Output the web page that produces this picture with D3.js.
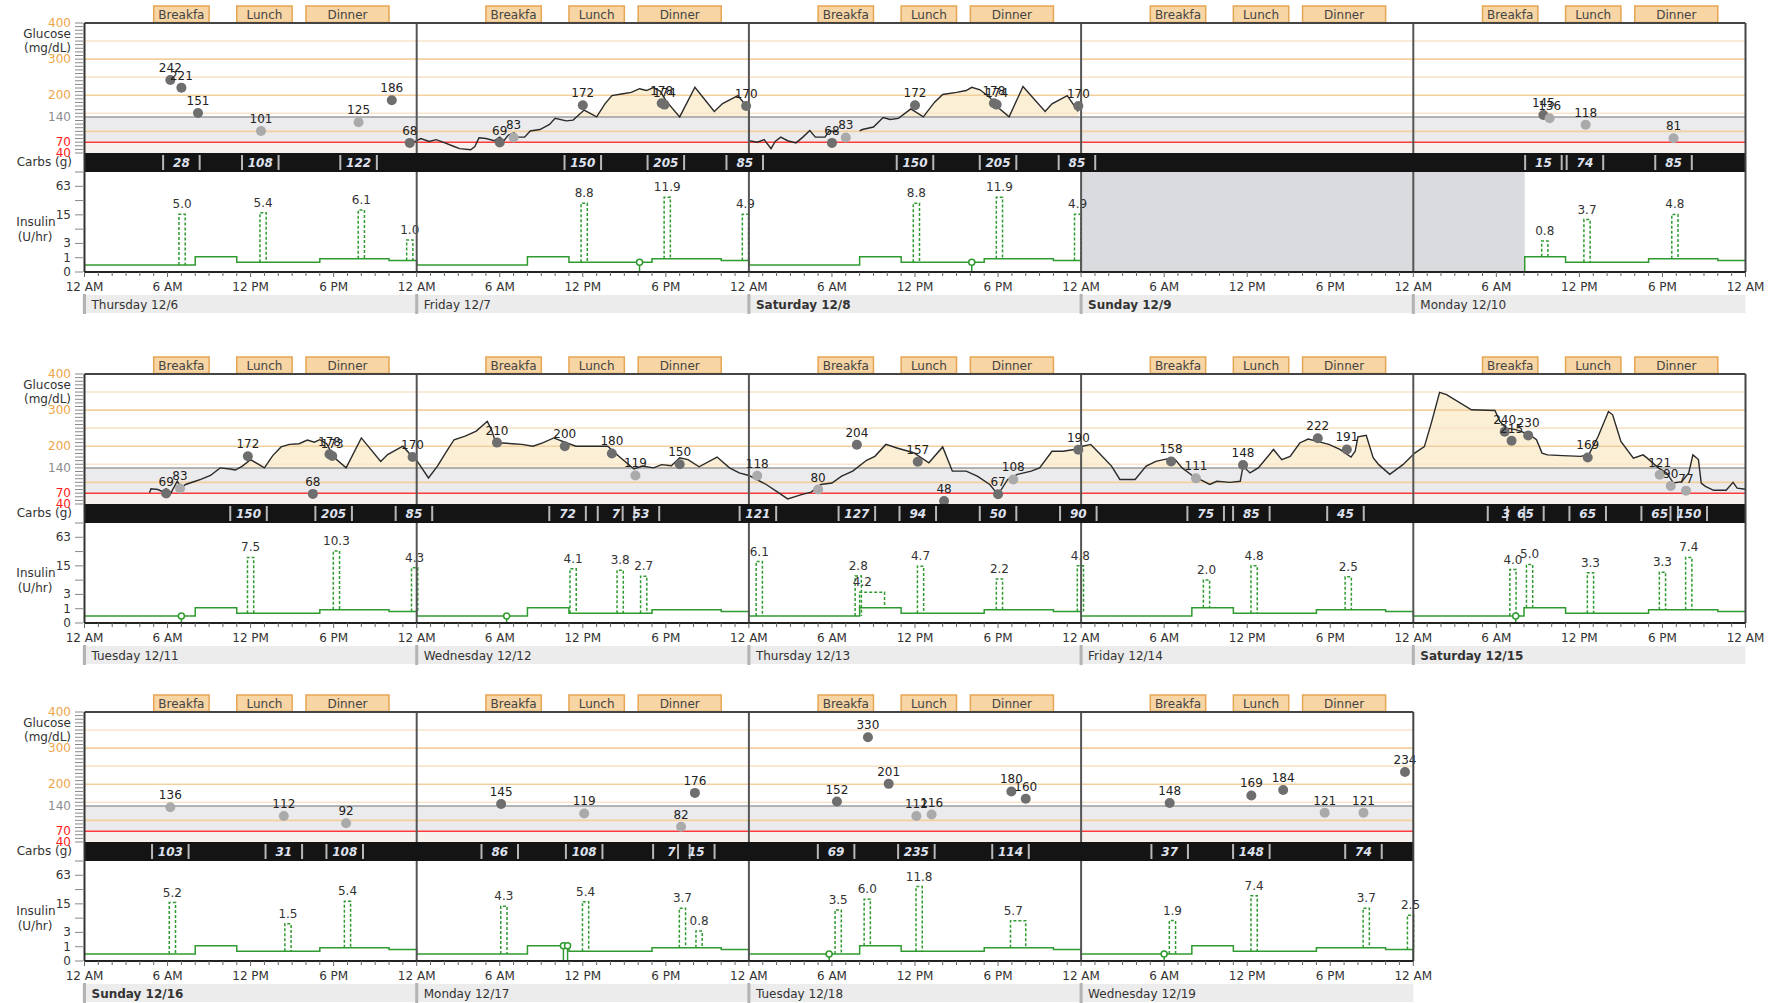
<!DOCTYPE html>
<html>
<head>
<meta charset="utf-8">
<script src="https://cdn.jsdelivr.net/npm/d3@7"></script>
<style>
  body { margin: 0; background: #fff; }
  svg { display: block; }
</style>
</head>
<body>
<script>
// Two week pump logbook: glucose (CGM + meter), carbs, basal/bolus insulin.
// All times are [day index, hour of day]. Day 0 = Thursday 12/6.

const dayLabels = ["Thursday 12/6", "Friday 12/7", "Saturday 12/8", "Sunday 12/9", "Monday 12/10",
  "Tuesday 12/11", "Wednesday 12/12", "Thursday 12/13", "Friday 12/14", "Saturday 12/15",
  "Sunday 12/16", "Monday 12/17", "Tuesday 12/18", "Wednesday 12/19"];
const weekendDays = [2, 3, 9, 10];
const rowDays = [[0, 5], [5, 10], [10, 14]];

const mealNames = ["Breakfa", "Lunch", "Dinner"];
const mealStart = [5, 11, 16];
const mealEnd = [9, 15, 22];

const glucoseTicks = [400, 300, 200, 140, 70, 40];
const glucoseGrid = [100, 150, 200, 250, 300, 350];
const insulinTicks = [0, 1, 3, 15, 63];
const insulinMinorTicks = [7, 31, 127];
const timeLabels = ["12 AM", "6 AM", "12 PM", "6 PM"];

// basal schedule (U/hr) and when the pump was running
const basalHours = [0, 8, 11, 17, 22];
const basalRates = [0.4, 1.1, 0.6, 0.9, 0.75];
const pumpActive = [[0, 0, 3, 0], [4, 8.05, 14, 0]];

// meter readings [day, hour, mg/dL]
const meterReadings = [
  [0, 6.2, 242], [0, 7.0, 221], [0, 8.2, 151], [0, 12.75, 101], [0, 19.8, 125], [0, 22.2, 186], [0, 23.5, 68],
  [1, 6.0, 69], [1, 7.0, 83], [1, 12.0, 172], [1, 17.7, 178], [1, 17.9, 174], [1, 23.8, 170],
  [2, 6.0, 68], [2, 7.0, 83], [2, 12.0, 172], [2, 17.7, 178], [2, 17.9, 174], [2, 23.8, 170],
  [4, 9.4, 145], [4, 9.85, 136], [4, 12.45, 118], [4, 18.8, 81],
  [5, 5.9, 69], [5, 6.9, 83], [5, 11.8, 172], [5, 16.5, 68], [5, 17.7, 178], [5, 17.9, 173], [5, 23.7, 170],
  [6, 5.8, 210], [6, 10.7, 200], [6, 14.1, 180], [6, 15.8, 119], [6, 19.0, 150],
  [7, 0.6, 118], [7, 5.0, 80], [7, 7.8, 204], [7, 12.2, 157], [7, 14.1, 48], [7, 18.0, 67], [7, 19.1, 108], [7, 23.8, 190],
  [8, 6.5, 158], [8, 8.3, 111], [8, 11.7, 148], [8, 17.1, 222], [8, 19.2, 191],
  [9, 6.6, 240], [9, 7.1, 215], [9, 8.3, 230], [9, 12.6, 169], [9, 17.8, 121], [9, 18.6, 90], [9, 19.7, 77],
  [10, 6.2, 136], [10, 14.4, 112], [10, 18.9, 92],
  [11, 6.1, 145], [11, 12.1, 119], [11, 19.1, 82], [11, 20.1, 176],
  [12, 6.36, 152], [12, 8.6, 330], [12, 10.1, 201], [12, 12.1, 112], [12, 13.2, 116], [12, 18.96, 180], [12, 20.0, 160],
  [13, 6.4, 148], [13, 12.3, 169], [13, 14.6, 184], [13, 17.6, 121], [13, 20.4, 121], [13, 23.4, 234]
];

// CGM traces [day, hour, mg/dL], one array per unbroken run
const cgmDec6to8 = [
  [0, 23.8, 70], [1, 0.0, 74], [1, 0.3, 80], [1, 0.9, 72], [1, 1.4, 77], [1, 1.9, 70], [1, 2.7, 58], [1, 3.1, 52],
  [1, 3.9, 49], [1, 4.2, 58], [1, 4.5, 82], [1, 5.0, 80], [1, 5.6, 74], [1, 6.0, 84], [1, 6.3, 74], [1, 6.6, 89],
  [1, 7.05, 96], [1, 7.2, 84], [1, 7.8, 84], [1, 8.2, 101], [1, 8.9, 105], [1, 9.6, 119], [1, 10.0, 136],
  [1, 10.8, 129], [1, 11.3, 131], [1, 12.1, 159], [1, 13.0, 140], [1, 13.6, 176], [1, 14.1, 199], [1, 14.9, 204],
  [1, 15.5, 208], [1, 16.1, 218], [1, 16.6, 213], [1, 17.1, 221], [1, 17.6, 211], [1, 18.0, 185], [1, 19.0, 140],
  [1, 20.1, 222], [1, 21.5, 155], [1, 22.1, 177], [1, 23.2, 199], [1, 23.8, 171], [1, 24.0, 166],
  [2, 0.02, 74], [2, 0.6, 70], [2, 1.1, 77], [2, 1.6, 52], [2, 1.9, 72], [2, 2.3, 84], [2, 2.8, 74], [2, 3.4, 68],
  [2, 3.9, 84], [2, 4.4, 102], [2, 4.8, 84], [2, 5.5, 84], [2, 5.8, 101], [2, 6.4, 99]
];
const cgmDec8 = [
  [2, 8.0, 101], [2, 8.2, 105], [2, 9.0, 112], [2, 9.7, 138], [2, 10.2, 133], [2, 10.8, 136], [2, 11.7, 162],
  [2, 12.6, 140], [2, 13.4, 180], [2, 14.0, 202], [2, 15.0, 208], [2, 15.7, 213], [2, 16.1, 222], [2, 16.7, 215],
  [2, 17.4, 194], [2, 18.0, 166], [2, 18.8, 140], [2, 19.8, 224], [2, 21.4, 155], [2, 21.9, 176], [2, 23.0, 199],
  [2, 23.5, 171], [2, 23.8, 155]
];
const cgmDec11to15 = [
  [5, 4.7, 71], [5, 4.8, 82], [5, 5.3, 80], [5, 5.6, 75], [5, 5.9, 82], [5, 6.25, 71], [5, 6.7, 103], [5, 7.0, 85],
  [5, 7.3, 94], [5, 8.0, 103], [5, 8.4, 108], [5, 9.1, 119], [5, 9.8, 140], [5, 10.5, 137], [5, 10.9, 134],
  [5, 11.4, 145], [5, 12.0, 163], [5, 13.0, 140], [5, 13.6, 174], [5, 14.2, 198], [5, 14.8, 205], [5, 15.5, 207],
  [5, 16.1, 217], [5, 16.6, 211], [5, 17.0, 218], [5, 17.5, 207], [5, 18.0, 170], [5, 18.9, 140], [5, 20.0, 223],
  [5, 21.4, 158], [5, 21.9, 177], [5, 23.0, 200], [5, 23.75, 168],
  [6, 0.05, 158], [6, 0.85, 112], [6, 1.5, 145], [6, 2.1, 182], [6, 2.7, 218], [6, 3.5, 228], [6, 4.3, 242],
  [6, 5.1, 269], [6, 5.4, 246], [6, 5.8, 200], [6, 6.2, 209], [6, 6.9, 207], [6, 7.6, 205], [6, 8.4, 200],
  [6, 9.1, 209], [6, 9.9, 223], [6, 10.7, 211], [6, 11.5, 200], [6, 13.8, 200], [6, 14.6, 172], [6, 15.7, 137],
  [6, 16.3, 145], [6, 17.1, 140], [6, 17.7, 149], [6, 18.4, 146], [6, 19.0, 168], [6, 19.6, 163], [6, 20.4, 143],
  [6, 21.7, 170], [6, 22.6, 140], [6, 23.3, 126],
  [7, 0.0, 119], [7, 1.25, 94], [7, 2.0, 75], [7, 2.8, 54], [7, 3.8, 66], [7, 4.5, 73], [7, 5.2, 94], [7, 6.0, 98],
  [7, 6.7, 117], [7, 7.5, 131], [7, 8.5, 161], [7, 9.1, 172], [7, 9.9, 205], [7, 10.7, 195], [7, 11.9, 182],
  [7, 13.0, 154], [7, 14.0, 198], [7, 14.7, 131], [7, 15.7, 131], [7, 16.5, 117], [7, 17.4, 94], [7, 18.0, 66],
  [7, 18.7, 108], [7, 19.4, 122], [7, 20.4, 131], [7, 21.0, 140], [7, 21.9, 186], [7, 22.7, 186], [7, 23.5, 191],
  [8, 0.1, 200], [8, 0.7, 205], [8, 1.4, 177], [8, 2.2, 145], [8, 2.8, 108], [8, 3.9, 108], [8, 4.7, 145],
  [8, 5.4, 158], [8, 6.2, 165], [8, 6.8, 163], [8, 7.3, 140], [8, 8.1, 117], [8, 9.3, 94], [8, 9.8, 103],
  [8, 10.75, 100], [8, 11.5, 103], [8, 11.7, 145], [8, 12.2, 126], [8, 12.8, 140], [8, 13.9, 191], [8, 14.5, 163],
  [8, 15.1, 172], [8, 15.8, 209], [8, 16.4, 220], [8, 17.0, 214], [8, 17.9, 205], [8, 18.7, 191], [8, 19.5, 170],
  [8, 19.8, 186], [8, 20.0, 226], [8, 20.6, 230], [8, 21.1, 168], [8, 21.5, 149], [8, 22.3, 122], [8, 23.25, 149],
  [9, 0.1, 181], [9, 0.8, 199], [9, 1.3, 264], [9, 1.9, 349], [9, 2.4, 343], [9, 4.2, 301], [9, 5.9, 299],
  [9, 6.25, 269], [9, 6.7, 250], [9, 7.4, 246], [9, 8.4, 232], [9, 8.9, 218], [9, 9.3, 181], [9, 9.7, 176],
  [9, 10.8, 174], [9, 12.1, 172], [9, 12.7, 178], [9, 13.35, 227], [9, 14.1, 296], [9, 14.4, 287], [9, 15.0, 213],
  [9, 15.9, 167], [9, 16.6, 176], [9, 16.9, 167], [9, 17.7, 140], [9, 18.3, 126], [9, 18.8, 98], [9, 19.4, 102],
  [9, 19.9, 126], [9, 20.2, 176], [9, 20.6, 163], [9, 20.8, 98], [9, 21.1, 89], [9, 21.7, 78], [9, 22.6, 78],
  [9, 23.1, 100], [9, 23.4, 84], [9, 24.0, 81]
];

// carbs [day, hour, grams]
const carbEntries = [
  [0, 7.0, 28], [0, 12.7, 108], [0, 19.8, 122],
  [1, 12.0, 150], [1, 18.0, 205], [1, 23.7, 85],
  [2, 12.0, 150], [2, 18.0, 205], [2, 23.7, 85],
  [4, 9.4, 15], [4, 12.4, 74], [4, 18.8, 85],
  [5, 11.85, 150], [5, 18.0, 205], [5, 23.8, 85],
  [6, 10.9, 72], [6, 14.4, 7], [6, 16.2, 53],
  [7, 0.65, 121], [7, 7.8, 127], [7, 12.2, 94], [7, 18.0, 50], [7, 23.8, 90],
  [8, 9.0, 75], [8, 12.3, 85], [8, 19.1, 45],
  [9, 6.7, 3], [9, 8.1, 65], [9, 12.6, 65], [9, 17.8, 65], [9, 19.9, 150],
  [10, 6.2, 103], [10, 14.4, 31], [10, 18.8, 108],
  [11, 6.0, 86], [11, 12.1, 108], [11, 18.4, 7], [11, 20.2, 15],
  [12, 6.3, 69], [12, 12.1, 235], [12, 18.9, 114],
  [13, 6.4, 37], [13, 12.3, 148], [13, 20.4, 74]
];

// boluses [day, hour, units]
const bolusEntries = [
  [0, 7.05, 5.0], [0, 12.9, 5.4], [0, 20.0, 6.1], [0, 23.5, 1.0],
  [1, 12.1, 8.8], [1, 18.1, 11.9], [1, 23.75, 4.9],
  [2, 12.1, 8.8], [2, 18.1, 11.9], [2, 23.75, 4.9],
  [4, 9.5, 0.8], [4, 12.55, 3.7], [4, 18.9, 4.8],
  [5, 12.0, 7.5], [5, 18.2, 10.3], [5, 23.85, 4.3],
  [6, 11.3, 4.1], [6, 14.7, 3.8], [6, 16.4, 2.7],
  [7, 0.75, 6.1], [7, 7.9, 2.8], [7, 12.4, 4.7], [7, 18.1, 2.2], [7, 23.95, 4.8],
  [8, 9.06, 2.0], [8, 12.5, 4.8], [8, 19.3, 2.5],
  [9, 7.2, 4.0], [9, 8.4, 5.0], [9, 12.8, 3.3], [9, 18.0, 3.3], [9, 19.9, 7.4],
  [10, 6.35, 5.2], [10, 14.7, 1.5], [10, 19.0, 5.4],
  [11, 6.3, 4.3], [11, 12.2, 5.4], [11, 19.2, 3.7], [11, 20.4, 0.8],
  [12, 6.45, 3.5], [12, 8.55, 6.0], [12, 12.3, 11.8],
  [13, 6.6, 1.9], [13, 12.5, 7.4], [13, 20.6, 3.7], [13, 23.8, 2.5]
];
// extended (square wave) boluses [day, start hour, end hour, units]
const extendedBoluses = [[7, 8.0, 9.8, 4.2], [12, 18.9, 20.0, 5.7]];
// site change / prime markers [day, hour]
const primeMarkers = [[1, 16.1], [2, 16.1], [5, 7.0], [6, 6.5], [9, 7.4], [11, 10.6], [11, 10.9], [12, 5.8], [13, 6.0]];

// ---- layout ----
const W = 1776, H = 1003;
const rowTop = [0, 351, 689];
const x0 = 84.5, dayW = 332.2;
const green = "#2f9a2f";

const svg = d3.select("body").append("svg")
  .attr("width", W).attr("height", H)
  .style("font-family", "'DejaVu Sans', sans-serif")
  .style("font-size", "12px");

function basalAt(t) {
  let h = ((t % 24) + 24) % 24;
  return basalRates[d3.bisectRight(basalHours, h) - 1];
}

rowDays.forEach((rd, r) => drawRow(rd[0], rd[1], rowTop[r], r));

function drawRow(d0, d1, top, r) {
  let n = d1 - d0;
  let x = d3.scaleLinear().domain([d0 * 24, d1 * 24]).range([x0, x0 + n * dayW]);
  let xEnd = x0 + n * dayW;
  let gTop = top + 23, gBot = top + 153, cBot = top + 172, iBot = top + 272;
  let yG = d3.scaleLinear().domain([40, 400]).range([gBot, gTop]);
  let yI = d3.scaleLog().base(2).domain([1, 128]).range([iBot, cBot]);
  let yIns = v => yI(1 + v);
  let inRow = d => d >= d0 && d < d1;
  let t = (d, h) => d * 24 + h;
  let g = svg.append("g");

  // meal buttons above each day
  d3.range(d0, d1).forEach(d => {
    mealNames.forEach((m, i) => {
      let a = x(t(d, mealStart[i])), b = x(t(d, mealEnd[i]));
      g.append("rect").attr("x", a).attr("y", top + 6).attr("width", b - a).attr("height", 16.5)
        .attr("fill", "#f7d5a4").attr("stroke", "#e6a553").attr("stroke-width", 1.5);
      g.append("text").attr("x", (a + b) / 2).attr("y", top + 19).attr("text-anchor", "middle")
        .attr("fill", "#444").text(m);
    });
  });

  // glucose panel background and target bands
  g.append("rect").attr("x", x0).attr("y", gTop).attr("width", xEnd - x0).attr("height", gBot - gTop).attr("fill", "#fff");
  g.append("rect").attr("x", x0).attr("y", yG(70)).attr("width", xEnd - x0).attr("height", yG(40) - yG(70)).attr("fill", "#f7f1ee");
  g.append("rect").attr("x", x0).attr("y", yG(140)).attr("width", xEnd - x0).attr("height", yG(70) - yG(140)).attr("fill", "#ebebee");

  // CGM fill above 140
  let clipId = "above140-" + r;
  g.append("clipPath").attr("id", clipId).append("rect")
    .attr("x", x0).attr("y", gTop).attr("width", xEnd - x0).attr("height", yG(140) - gTop);
  let segs = [cgmDec6to8, cgmDec8, cgmDec11to15]
    .map(s => s.filter(p => inRow(p[0])).map(p => [t(p[0], p[1]), p[2]]))
    .filter(s => s.length > 1);
  segs.forEach(s => {
    g.append("path").datum(s).attr("clip-path", "url(#" + clipId + ")")
      .attr("fill", "#fbefd6")
      .attr("d", d3.area().x(p => x(p[0])).y0(yG(140)).y1(p => yG(p[1])));
  });

  g.selectAll(null).data(glucoseGrid).enter().append("line")
    .attr("x1", x0).attr("x2", xEnd).attr("y1", v => yG(v)).attr("y2", v => yG(v))
    .attr("stroke", v => v % 100 === 0 ? "#f3cf9e" : "#f9e5cb").attr("stroke-width", 1.6);
  g.append("line").attr("x1", x0).attr("x2", xEnd).attr("y1", yG(140)).attr("y2", yG(140))
    .attr("stroke", "#9d9d9d").attr("stroke-width", 1.5);
  g.append("line").attr("x1", x0).attr("x2", xEnd).attr("y1", yG(70)).attr("y2", yG(70))
    .attr("stroke", "#ff3b3b").attr("stroke-width", 1.5);

  segs.forEach(s => {
    g.append("path").datum(s).attr("fill", "none").attr("stroke", "#2a2a2a").attr("stroke-width", 1.4)
      .attr("d", d3.line().x(p => x(p[0])).y(p => yG(p[1])));
  });

  // insulin panel: pump gap shading
  g.append("rect").attr("x", x0).attr("y", cBot).attr("width", xEnd - x0).attr("height", iBot - cBot).attr("fill", "#fff");
  let r0 = d0 * 24, r1 = d1 * 24;
  let gapS = t(pumpActive[0][2], pumpActive[0][3]), gapE = t(pumpActive[1][0], pumpActive[1][1]);
  let ga = Math.max(gapS, r0), gb = Math.min(gapE, r1);
  if (ga < gb) {
    g.append("rect").attr("x", x(ga)).attr("y", cBot).attr("width", x(gb) - x(ga)).attr("height", iBot - cBot)
      .attr("fill", "#d9dbdf");
  }

  // basal line
  pumpActive.forEach(pa => {
    let s = t(pa[0], pa[1]), e = t(pa[2], pa[3]);
    let a = Math.max(s, r0), b = Math.min(e, r1);
    if (a >= b) return;
    let pts = [];
    if (a === s && s > 0) pts.push([a, 0]);
    pts.push([a, basalAt(a)]);
    for (let d = Math.floor(a / 24); d * 24 < b; d++) {
      basalHours.forEach(bh => {
        let tt = d * 24 + bh;
        if (tt > a && tt < b) pts.push([tt, basalAt(tt)]);
      });
    }
    pts.push([b, basalAt(b - 1e-6)]);
    if (b === e) pts.push([b, 0]);
    g.append("path").datum(pts).attr("fill", "none").attr("stroke", green).attr("stroke-width", 1.5)
      .attr("d", d3.line().curve(d3.curveStepAfter).x(p => x(p[0])).y(p => yIns(p[1])));
  });

  // boluses as dashed spikes
  let spikeW = 0.45;
  bolusEntries.filter(b => inRow(b[0])).forEach(b => {
    let tm = t(b[0], b[1]), base = basalAt(tm), peak = base + 3 * b[2];
    let xa = x(tm - spikeW / 2), xb = x(tm + spikeW / 2);
    g.append("path").attr("fill", "none").attr("stroke", green).attr("stroke-width", 1.5)
      .attr("stroke-dasharray", "3,2")
      .attr("d", `M${xa},${yIns(base)}V${yIns(peak)}H${xb}V${yIns(base)}`);
    g.append("text").attr("x", x(tm)).attr("y", yIns(peak) - 6).attr("text-anchor", "middle")
      .attr("fill", "#333").text(d3.format(".1f")(b[2]));
  });
  extendedBoluses.filter(b => inRow(b[0])).forEach(b => {
    let s = t(b[0], b[1]), e = t(b[0], b[2]);
    let base = basalAt(s), rate = base + b[3] / (b[2] - b[1]);
    g.append("path").attr("fill", "none").attr("stroke", green).attr("stroke-width", 1.5)
      .attr("stroke-dasharray", "3,2")
      .attr("d", `M${x(s)},${yIns(base)}V${yIns(rate)}H${x(e)}V${yIns(basalAt(e))}`);
    g.append("text").attr("x", x(s + 0.2)).attr("y", yIns(rate) - 6).attr("text-anchor", "middle")
      .attr("fill", "#333").text(d3.format(".1f")(b[3]));
  });
  primeMarkers.filter(p => inRow(p[0])).forEach(p => {
    let tm = t(p[0], p[1]);
    g.append("line").attr("x1", x(tm)).attr("x2", x(tm)).attr("y1", iBot).attr("y2", yIns(basalAt(tm)))
      .attr("stroke", green).attr("stroke-width", 1.5);
    g.append("circle").attr("cx", x(tm)).attr("cy", yIns(basalAt(tm))).attr("r", 3)
      .attr("fill", "#fff").attr("stroke", green).attr("stroke-width", 1.5);
  });

  // day separators
  d3.range(d0 + 1, d1).forEach(d => {
    g.append("line").attr("x1", x(d * 24)).attr("x2", x(d * 24)).attr("y1", gTop).attr("y2", iBot)
      .attr("stroke", "#555").attr("stroke-width", 2);
  });

  // meter readings
  let meters = meterReadings.filter(m => inRow(m[0]));
  g.selectAll(null).data(meters).enter().append("circle")
    .attr("cx", m => x(t(m[0], m[1]))).attr("cy", m => yG(m[2])).attr("r", 5)
    .attr("fill", m => (m[2] > 140 || m[2] < 70) ? "#6e6e6e" : "#aaaaaa");
  g.selectAll(null).data(meters).enter().append("text")
    .attr("x", m => x(t(m[0], m[1]))).attr("y", m => yG(m[2]) - 8).attr("text-anchor", "middle")
    .attr("fill", "#222").text(m => m[2]);

  // carbs strip
  g.append("rect").attr("x", x0).attr("y", gBot).attr("width", xEnd - x0).attr("height", cBot - gBot).attr("fill", "#141414");
  let carbs = carbEntries.filter(c => inRow(c[0]));
  let half = 1.32;
  carbs.forEach(c => {
    let tm = t(c[0], c[1]);
    [tm - half, tm + half].forEach(e => {
      if (e > r1) return;
      g.append("rect").attr("x", x(e) - 1).attr("y", gBot + 2).attr("width", 2).attr("height", cBot - gBot - 4)
        .attr("fill", "#b8b8b8");
    });
  });
  g.selectAll(null).data(carbs).enter().append("text")
    .attr("x", c => x(t(c[0], c[1]))).attr("y", gBot + 14).attr("text-anchor", "middle")
    .attr("fill", "#dfe2ef").style("font-weight", "bold").style("font-style", "italic")
    .text(c => c[2]);

  // frame
  g.append("line").attr("x1", x0).attr("x2", xEnd).attr("y1", gTop).attr("y2", gTop).attr("stroke", "#444").attr("stroke-width", 2);
  g.append("line").attr("x1", x0).attr("x2", x0).attr("y1", gTop).attr("y2", iBot).attr("stroke", "#333").attr("stroke-width", 2);
  g.append("line").attr("x1", xEnd).attr("x2", xEnd).attr("y1", gTop).attr("y2", iBot).attr("stroke", "#444").attr("stroke-width", 2);

  // time axis
  g.append("line").attr("x1", x0).attr("x2", xEnd).attr("y1", iBot).attr("y2", iBot).attr("stroke", "#222").attr("stroke-width", 2);
  d3.range(r0, r1 + 1).forEach(h => {
    g.append("line").attr("x1", x(h)).attr("x2", x(h)).attr("y1", iBot).attr("y2", iBot + (h % 6 === 0 ? 5 : 4))
      .attr("stroke", "#666").attr("stroke-width", 1);
    if (h % 6 === 0) {
      g.append("text").attr("x", x(h)).attr("y", top + 291).attr("text-anchor", "middle")
        .attr("fill", "#333").text(timeLabels[(h / 6) % 4]);
    }
  });

  // day name band
  g.append("rect").attr("x", x0 - 2).attr("y", top + 295).attr("width", xEnd - x0 + 2).attr("height", 18).attr("fill", "#ececec");
  d3.range(d0, d1).forEach(d => {
    g.append("rect").attr("x", x(d * 24) - 1.5).attr("y", top + 294).attr("width", 3).attr("height", 20).attr("fill", "#b3b3b3");
    g.append("text").attr("x", x(d * 24) + 7).attr("y", top + 309).attr("fill", "#333")
      .style("font-weight", weekendDays.includes(d) ? "bold" : "normal").text(dayLabels[d]);
  });

  // left axes
  d3.range(40, 401, 10).forEach(v => {
    g.append("line").attr("x1", 75).attr("x2", 83).attr("y1", yG(v)).attr("y2", yG(v)).attr("stroke", "#888");
  });
  g.selectAll(null).data(glucoseTicks).enter().append("text")
    .attr("x", 71).attr("y", v => yG(v) + 4).attr("text-anchor", "end")
    .attr("fill", v => v >= 200 ? "#eea54a" : v === 140 ? "#8c8c8c" : "#ff1a1a").text(v => v);
  g.append("text").attr("x", 71).attr("y", top + 38).attr("text-anchor", "end").attr("fill", "#333").text("Glucose");
  g.append("text").attr("x", 71).attr("y", top + 52).attr("text-anchor", "end").attr("fill", "#333").text("(mg/dL)");
  g.append("text").attr("x", 72).attr("y", top + 166).attr("text-anchor", "end").attr("fill", "#333").text("Carbs (g)");

  insulinTicks.concat(insulinMinorTicks).forEach(v => {
    g.append("line").attr("x1", 75).attr("x2", 83).attr("y1", yIns(v)).attr("y2", yIns(v)).attr("stroke", "#888");
  });
  g.selectAll(null).data(insulinTicks).enter().append("text")
    .attr("x", 71).attr("y", v => yIns(v) + 4).attr("text-anchor", "end")
    .attr("fill", "#333").text(v => v);
  g.append("text").attr("x", 36).attr("y", top + 226).attr("text-anchor", "middle").attr("fill", "#333").text("Insulin");
  g.append("text").attr("x", 35).attr("y", top + 241).attr("text-anchor", "middle").attr("fill", "#333").text("(U/hr)");
}
</script>
</body>
</html>
